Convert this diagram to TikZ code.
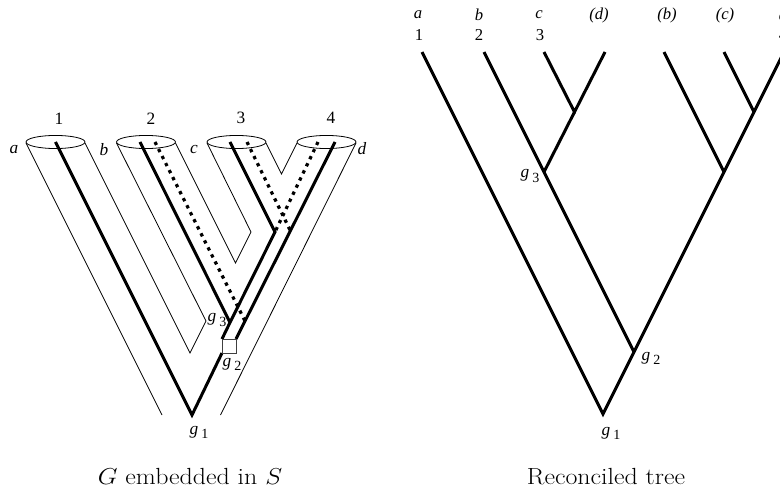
\documentclass[tikz,border=0pt]{standalone}
\usepackage{fontspec}
\newfontfamily\tms{Liberation Serif}
\newcommand{\glab}[1]{{\tms\itshape g}\,\raisebox{-0.55ex}{\tms\fontsize{10.5}{12}\selectfont #1}}
\newcommand{\widecap}[1]{\scalebox{1.11}[1]{#1}}
\begin{document}
\begin{tikzpicture}[x=0.75pt,y=-0.75pt,
  wall/.style={line width=0.6pt},
  gline/.style={line width=2.25pt},
  lost/.style={line width=2.4pt, dash pattern=on 2.5pt off 3.4pt},
  llab/.style={inner sep=0pt, font=\tms\fontsize{13}{15}\selectfont},
  rlab/.style={inner sep=0pt, font=\tms\fontsize{12.5}{14}\selectfont},
  glabel/.style={inner sep=0pt, font=\fontsize{13}{15}\selectfont},
  capt/.style={inner sep=0pt, anchor=base, font=\fontsize{17.5}{20}\selectfont}]
\clip (0,0) rectangle (780,491);
\fill[white] (0,0) rectangle (780,491);

% ---------------- left: species tree tubes ----------------
\coordinate (E1) at (55.5,142);
\coordinate (E2) at (146,142);
\coordinate (E3) at (236.5,142);
\coordinate (E4) at (326.5,142);
\foreach \e in {E1,E2,E3,E4}
  \draw[wall] (\e) ellipse [x radius=22.1pt, y radius=4.9pt];

\coordinate (w1a) at (26,143);   \coordinate (w1b) at (162,415);
\coordinate (w2a) at (85,143);   \coordinate (V1) at (190,353);
\coordinate (P) at (206,321);    \coordinate (w2b) at (116.5,143);
\coordinate (w3a) at (175.5,143); \coordinate (V2) at (235.5,263);
\coordinate (Q) at (251,232);    \coordinate (w3b) at (207,143);
\coordinate (w4a) at (266,143);  \coordinate (V3) at (281.5,174);
\coordinate (w4b) at (297,143);
\coordinate (w5a) at (356,143);  \coordinate (w5b) at (220.5,415);

\draw[wall] (w1a) -- (w1b);
\draw[wall] (w2a) -- (V1) -- (P) -- (w2b);
\draw[wall] (w3a) -- (V2) -- (Q) -- (w3b);
\draw[wall] (w4a) -- (V3) -- (w4b);
\draw[wall] (w5a) -- (w5b);

% ---------------- left: gene tree ----------------
\coordinate (t1) at (55.5,142);
\coordinate (t2) at (140,142);
\coordinate (t3) at (230,142);
\coordinate (t4) at (335,142);
\coordinate (g1) at (192,415);
\coordinate (g3) at (230,322.5);
\coordinate (N1) at (275,232);
\coordinate (N2) at (290,230);
\coordinate (Nb) at (245,321);
\coordinate (BL) at (222,353);
\coordinate (TL) at (222,339);
\coordinate (TR) at (236,339);
\coordinate (db) at (155,142);
\coordinate (dc) at (247,142);
\coordinate (dd) at (318,142);

\draw[lost] (db) -- (Nb);
\draw[lost] (dc) -- (N2);
\draw[lost] (dd) -- (N1);

\draw[gline] (t1) -- (g1) -- (BL);
\draw[gline] (TL) -- (g3) -- (N1) -- (t3);
\draw[gline] (t2) -- (g3);
\draw[gline] (TR) -- (t4);

\node[draw=black!75, line width=0.6pt, fill=white, minimum size=10.5pt, inner sep=0pt] (box) at (229,346) {};

% left labels
\node[llab] (n1) at (59,119) {1};
\node[llab] (n2) at (151,119) {2};
\node[llab] (n3) at (241,118) {3};
\node[llab] (n4) at (331,118) {4};
\node[llab] (la) at (14,150) {\itshape a};
\node[llab] (lb) at (104,150) {\itshape b};
\node[llab] (lc) at (194,150) {\itshape c};
\node[llab] (ld) at (362,149) {\itshape d};
\node[glabel] (lg3) at (217,320) {\glab{3}};
\node[glabel] (lg2) at (232,364) {\glab{2}};
\node[glabel] (lg1) at (199,432) {\glab{1}};

% ---------------- right: reconciled tree ----------------
\coordinate (ra) at (422,52);
\coordinate (rb) at (484,52);
\coordinate (rc) at (544,52);
\coordinate (rd) at (605,52);
\coordinate (rbb) at (664,52);
\coordinate (rcc) at (724,52);
\coordinate (rdd) at (784,52);
\coordinate (rn1) at (574.5,112);
\coordinate (rg3) at (544,172);
\coordinate (rn3) at (754,112);
\coordinate (rn2) at (724,172);
\coordinate (rg2) at (634,352);
\coordinate (rg1) at (603,414);

\draw[gline] (ra) -- (rg1) -- (rg2) -- (rn2) -- (rn3) -- (rdd);
\draw[gline] (rb) -- (rg3) -- (rg2);
\draw[gline] (rc) -- (rn1) -- (rd);
\draw[gline] (rn1) -- (rg3);
\draw[gline] (rbb) -- (rn2);
\draw[gline] (rcc) -- (rn3);

\node[rlab] (ra1) at (418,15) {\itshape a};
\node[rlab] (rb1) at (479,15) {\itshape b};
\node[rlab] (rc1) at (539,15) {\itshape c};
\node[rlab] (rd1) at (599,15) {\itshape (d)};
\node[rlab] (rb2) at (667,15) {\itshape (b)};
\node[rlab] (rc2) at (725,15) {\itshape (c)};
\node[rlab] (rd2) at (783,15) {\itshape d};
\node[rlab] (rn1l) at (419,35) {1};
\node[rlab] (rn2l) at (479,35) {2};
\node[rlab] (rn3l) at (540,35) {3};
\node[rlab] (rn4l) at (783,35) {4};
\node[glabel] (rg3l) at (530,176) {\glab{3}};
\node[glabel] (rg2l) at (651,358) {\glab{2}};
\node[glabel] (rg1l) at (611,433) {\glab{1}};

% captions
\node[capt] (cap1) at (190,484) {\widecap{$G$ embedded in $S$}};
\node[capt] (cap2) at (606,484) {\widecap{Reconciled tree}};
\end{tikzpicture}
\end{document}
